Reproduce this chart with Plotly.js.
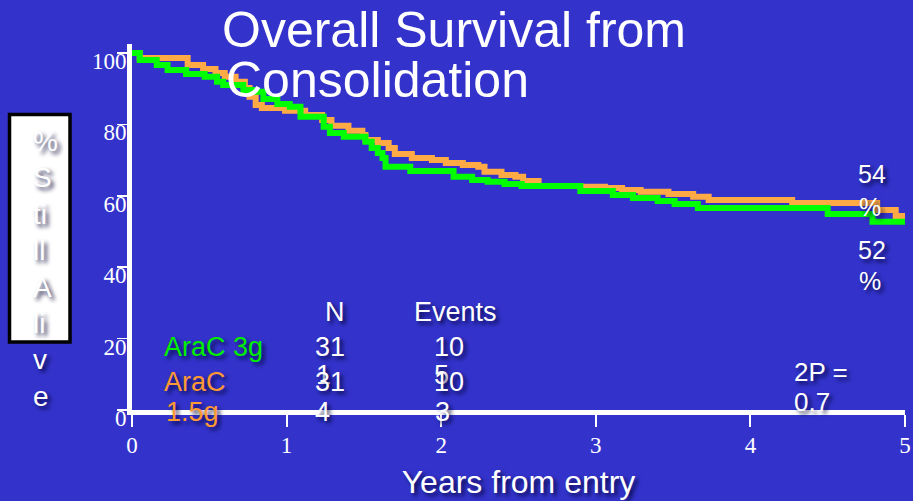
<!DOCTYPE html>
<html>
<head>
<meta charset="utf-8">
<script src="https://cdn.plot.ly/plotly-3.0.1.min.js"></script>
<style>html,body{margin:0;padding:0;background:#3333cc;}#chart{width:913px;height:501px;}</style>
</head>
<body>
<div id="chart"></div>
<script>
// ---- data ----
const aracHighName = "AraC 3g";
const aracHighTime = [0, 0.05, 0.16, 0.23, 0.35, 0.47, 0.55, 0.59, 0.72, 0.78, 0.85, 0.94, 1.02, 1.09, 1.24, 1.28, 1.37, 1.51, 1.55, 1.59, 1.62, 1.64, 1.80, 2.08, 2.20, 2.30, 2.41, 2.52, 2.90, 3.11, 3.24, 3.40, 3.51, 3.66, 4.50, 4.79, 5.0];
const aracHighSurv = [100, 98.0, 96.6, 95.2, 94.1, 93.3, 91.9, 91.0, 89.6, 89.1, 87.1, 85.7, 84.9, 82.1, 79.3, 77.6, 76.5, 75.1, 73.4, 72.0, 70.6, 68.1, 66.9, 65.3, 64.4, 63.9, 63.3, 62.7, 61.3, 60.2, 59.4, 58.5, 57.7, 56.6, 54.9, 52.7, 52.7];

const aracLowName = "AraC 1.5g";
const aracLowTime = [0, 0.05, 0.36, 0.46, 0.54, 0.60, 0.67, 0.73, 0.76, 0.80, 0.84, 0.99, 1.12, 1.23, 1.29, 1.40, 1.49, 1.51, 1.59, 1.66, 1.70, 1.81, 1.94, 2.03, 2.14, 2.24, 2.28, 2.39, 2.48, 2.53, 2.63, 2.90, 3.06, 3.17, 3.29, 3.47, 3.63, 3.73, 4.27, 4.82, 4.94, 5.0];
const aracLowSurv = [100, 98.6, 96.6, 95.5, 94.4, 93.3, 91.9, 90.2, 87.7, 85.4, 84.6, 83.8, 82.6, 81.2, 79.6, 78.2, 77.0, 75.6, 74.8, 73.4, 71.7, 70.6, 70.0, 69.2, 68.6, 68.1, 66.7, 65.8, 65.3, 64.1, 62.7, 62.5, 62.2, 61.6, 61.1, 60.5, 59.7, 58.8, 58.0, 56.0, 54.3, 54.3];

const xTickVals = [0, 1, 2, 3, 4, 5];
const xTickText = ["0", "1", "2", "3", "4", "5"];
const yTickVals = [0, 20, 40, 60, 80, 100];
const yTickText = ["0", "20", "40", "60", "80", "100"];

const titleLine1 = "Overall Survival from";
const titleLine2 = "Consolidation";
const xTitle = "Years from entry";
const yTitleLetters = ["%", "S", "ti", "ll", "A", "li", "v", "e"];
const tableHeaders = ["N", "Events"];
const highRow = ["31", "10"];
const lowRow = ["31", "10"];
const lowRowAbove = ["1", "5"];
const lowRowBelow = ["4", "3"];
const endLabels = ["54", "52"];
const pValueLines = ["2P =", "0.7"];

// ---- styling ----
const BG = "#3333cc";
const GREEN = "#00ff00";
const GREEN_TXT = "#00ee00";
const ORANGE = "#ffaa44";
const ORANGE_TXT = "#ff9933";
const SANS = "Liberation Sans, Arial, sans-serif";
const SERIF = "Liberation Serif, Times New Roman, serif";
const SHADOW = "3px 3px 4px rgba(0,0,50,0.85)";

const M = {l: 132, r: 8, t: 44, b: 91};
const W = 913, H = 501;
const PW = W - M.l - M.r, PH = H - M.t - M.b;
const px2x = px => (px - M.l) / PW;
const py2y = py => (H - M.b - py) / PH;

function ann(text, px, py, o) {
  o = o || {};
  return {
    text: text, xref: "paper", yref: "paper",
    x: px2x(px), y: py2y(py),
    xanchor: o.xanchor || "center", yanchor: o.yanchor || "middle",
    align: o.align || "center", showarrow: false,
    font: {family: SANS, size: o.size || 27, color: o.color || "white", shadow: o.shadow === undefined ? SHADOW : o.shadow}
  };
}

const traces = [
  {x: aracLowTime, y: aracLowSurv, name: aracLowName, mode: "lines",
   line: {shape: "hv", color: ORANGE, width: 6}, cliponaxis: false},
  {x: aracHighTime, y: aracHighSurv, name: aracHighName, mode: "lines",
   line: {shape: "hv", color: GREEN, width: 6}, cliponaxis: false}
];

const annotations = [
  ann(titleLine2, 224, 80, {xanchor: "left", size: 50, shadow: "none"}),
  ann(yTitleLetters.join("<br>"), 31, 269, {xanchor: "left", align: "left", size: 28}),
  ann(tableHeaders[0], 335, 312),
  ann(tableHeaders[1], 455, 312),
  ann(aracHighName, 162, 347, {xanchor: "left", color: GREEN_TXT}),
  ann(highRow[0], 330, 347),
  ann(highRow[1], 449, 347),
  ann(lowRowAbove[0], 323, 375),
  ann(lowRowAbove[1], 441, 375),
  ann("AraC", 162, 382, {xanchor: "left", color: ORANGE_TXT}),
  ann(lowRow[0], 330, 382),
  ann(lowRow[1], 449, 382),
  ann("1.5g", 164, 412, {xanchor: "left", color: ORANGE_TXT}),
  ann(lowRowBelow[0], 322, 412),
  ann(lowRowBelow[1], 442, 412),
  ann(pValueLines[0], 792, 372, {xanchor: "left", size: 26}),
  ann(pValueLines[1], 792, 402, {xanchor: "left", size: 26}),
  ann(endLabels[0], 856, 174, {xanchor: "left", size: 25}),
  ann("%", 857, 207, {xanchor: "left", size: 25}),
  ann(endLabels[1], 856, 250, {xanchor: "left", size: 25}),
  ann("%", 857, 281, {xanchor: "left", size: 25})
];

const layout = {
  width: W, height: H,
  margin: M,
  paper_bgcolor: BG, plot_bgcolor: BG,
  showlegend: false,
  title: {
    text: titleLine1, xref: "container", yref: "container",
    x: 222 / W, xanchor: "left", y: 1 - 29 / H, yanchor: "middle",
    font: {family: SANS, size: 50, color: "white"}
  },
  xaxis: {
    range: [0, 5], showgrid: false, zeroline: false,
    showline: true, linecolor: "white", linewidth: 5,
    ticks: "outside", ticklen: 12, tickwidth: 2, tickcolor: "white",
    tickvals: xTickVals, ticktext: xTickText, ticklabelstandoff: -2,
    tickfont: {family: SERIF, size: 23, color: "white"},
    title: {text: xTitle, standoff: 16, font: {family: SANS, size: 32, color: "white", shadow: SHADOW}}
  },
  yaxis: {
    range: [0, 102.5], showgrid: false, zeroline: false,
    showline: true, linecolor: "white", linewidth: 5,
    ticks: "outside", ticklen: 10, tickwidth: 1.5, tickcolor: "white",
    tickvals: yTickVals, ticktext: yTickText,
    ticklabelstandoff: -14, ticklabelshift: 8,
    tickfont: {family: SERIF, size: 23, color: "white"}
  },
  shapes: [{
    type: "rect", xref: "paper", yref: "paper", layer: "above",
    x0: px2x(9.5), x1: px2x(70), y0: py2y(342), y1: py2y(114.5),
    fillcolor: "white", line: {color: "black", width: 3.5}
  }],
  annotations: annotations
};

Plotly.newPlot("chart", traces, layout, {staticPlot: true, displayModeBar: false});
</script>
</body>
</html>
